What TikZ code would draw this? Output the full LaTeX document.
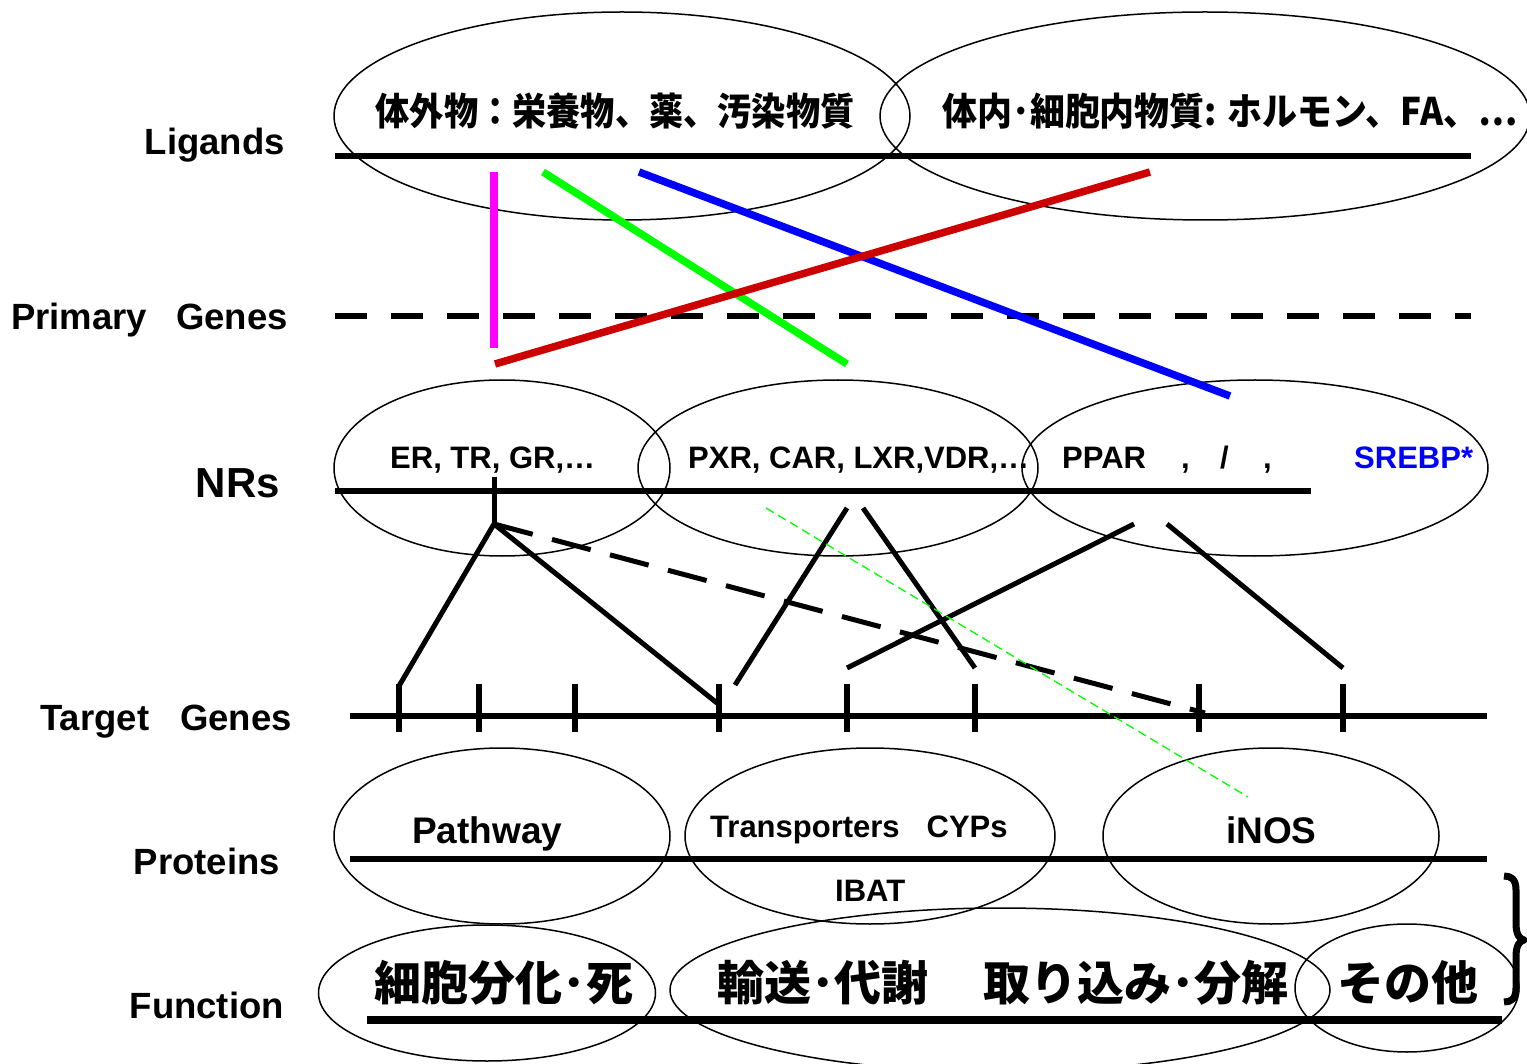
\documentclass[tikz,border=0pt]{standalone}
\usepackage{fontspec}
\setmainfont{Liberation Sans}
\newfontfamily\jp{Noto Sans CJK JP}
\usetikzlibrary{shapes.geometric}
\definecolor{myred}{RGB}{204,0,0}
\definecolor{mygreen}{RGB}{0,255,0}
\definecolor{mymag}{RGB}{255,0,255}
\definecolor{myblue}{RGB}{0,0,255}
\begin{document}
\begin{tikzpicture}[x=1pt,y=-1pt,
  oval/.style={draw, ellipse, line width=1.5pt, inner sep=0pt},
  bar/.style={line width=6.5pt},
  tickmark/.style={line width=6pt},
  link/.style={line width=5pt},
  lig/.style={line width=7.5pt},
  lab/.style={font=\fontsize{36.5}{40}\selectfont\bfseries, anchor=base east, inner sep=0pt},
  nrt/.style={font=\fontsize{31}{34}\selectfont\bfseries, anchor=base west, inner sep=0pt},
  prt/.style={font=\fontsize{37}{40}\selectfont\bfseries, anchor=base west, inner sep=0pt},
  jptop/.style={font=\jp\bfseries\fontsize{38}{42}\selectfont, inner sep=0pt},
  jpfun/.style={font=\jp\bfseries\fontsize{47}{52}\selectfont, inner sep=0pt}
]
\useasboundingbox (0,0) rectangle (1527,1064);

% ---------- ellipses ----------
\node[oval, minimum width=576pt, minimum height=208pt] (L1) at (622,116) {};
\node[oval, minimum width=650pt, minimum height=208pt] (L2) at (1205,116) {};
\node[oval, minimum width=336pt, minimum height=176pt] (N1) at (502,468) {};
\node[oval, minimum width=400pt, minimum height=176pt] (N2) at (838,468) {};
\node[oval, minimum width=466pt, minimum height=176pt] (N3) at (1255,468) {};
\node[oval, minimum width=336pt, minimum height=176pt] (P1) at (502,836) {};
\node[oval, minimum width=370pt, minimum height=176pt] (P2) at (870,836) {};
\node[oval, minimum width=336pt, minimum height=176pt] (P3) at (1271,836) {};
\node[oval, minimum width=337pt, minimum height=136pt] (F1) at (487,993) {};
\node[oval, minimum width=660pt, minimum height=164pt] (F2) at (1000,990) {};
\node[oval, minimum width=224pt, minimum height=128pt] (F3) at (1407,988) {};

% ---------- row labels ----------
\node[lab] (lLig) at (285,155) {Ligands};
\node[lab] (lPri) at (288,330) {Primary\hspace{29pt}Genes};
\node[lab, font=\fontsize{42}{46}\selectfont\bfseries] (lNR) at (280,497) {NRs};
\node[lab] (lTar) at (292,730) {Target\hspace{31pt}Genes};
\node[lab] (lPro) at (280,874) {Proteins};
\node[lab] (lFun) at (284,1018) {Function};

% ---------- ligand texts ----------
\node[jptop] (t1) at (615,111) {\scalebox{0.9}[1]{体外物：栄養物、薬、汚染物質}};
\node[jptop] (t2) at (1230,111) {\scalebox{0.92}[1]{体内･細胞内物質: ホルモン、FA、…}};

% ---------- NR texts ----------
\node[nrt] (nr1) at (390,469) {ER, TR, GR,…};
\node[nrt] (nr2) at (688,469) {PXR, CAR, LXR,VDR,…};
\node[nrt] (nr3) at (1062,469) {PPAR};
\node[nrt] (c1) at (1181,469) {,};
\node[nrt] (c2) at (1220,469) {/};
\node[nrt] (c3) at (1263,469) {,};
\node[nrt, text=myblue] (sre) at (1354,469) {SREBP*};

% ---------- protein texts ----------
\node[prt] (pw) at (412,843) {Pathway};
\node[nrt] (tc) at (710,837) {Transporters\hspace{27pt}CYPs};
\node[nrt] (ib) at (835,901) {IBAT};
\node[prt] (inos) at (1226,843) {iNOS};

% ---------- function texts ----------
\node[jpfun] (f1) at (504,983) {細胞分化･死};
\node[jpfun] (f2) at (823,983) {輸送･代謝};
\node[jpfun] (f3) at (1136,983) {取り込み･分解};
\node[jpfun] (f4) at (1408,983) {その他};

% ---------- horizontal bars ----------
\draw[bar] (335,156) -- (1471,156);
\draw[bar, dash pattern=on 32pt off 24pt] (335,316) -- (1471,316);
\draw[bar] (335,491) -- (1311,491);
\draw[bar] (350,716) -- (1487,716);
\draw[bar] (350,859) -- (1487,859);
\draw[line width=7.5pt] (367,1020) -- (1502,1020);

% ---------- target gene ticks ----------
\foreach \x/\n in {399/1,479/2,575/3,719/4,847/5,975/6,1199/7,1343/8}{
  \coordinate (g\n) at (\x,684);
  \draw[tickmark] (\x,684) -- (\x,732);
}

% ---------- ligand -> NR coloured lines ----------
\coordinate (mA) at (494,172); \coordinate (mB) at (494,348);
\coordinate (gA) at (543,172); \coordinate (gB) at (847,364);
\coordinate (bA) at (639,172); \coordinate (bB) at (1230,396);
\coordinate (rA) at (1150,172); \coordinate (rB) at (495,364);
\draw[lig, mymag] (mA) -- (mB);
\draw[lig, mygreen] (gA) -- (gB);
\draw[lig, myblue] (bA) -- (bB);
\draw[lig, myred] (rA) -- (rB);

% ---------- NR -> target gene links ----------
\coordinate (jt) at (494,477);
\coordinate (j) at (494,524);
\coordinate (e1) at (399,686);
\coordinate (e4) at (717,703);
\coordinate (e7) at (1205,713);
\coordinate (x1) at (847,508); \coordinate (y1) at (735,685);
\coordinate (x2) at (863,508); \coordinate (y2) at (975,668);
\coordinate (x3) at (1134,524); \coordinate (y3) at (847,668);
\coordinate (x4) at (1167,524); \coordinate (y4) at (1343,668);
\coordinate (ga) at (766,508); \coordinate (gb) at (1248,797);
\draw[link] (jt) -- (j);
\draw[link] (j) -- (e1);
\draw[link] (j) -- (e4);
\draw[link, dash pattern=on 40pt off 20pt] (j) -- (e7);
\draw[link] (x1) -- (y1);
\draw[link] (x2) -- (y2);
\draw[link] (x3) -- (y3);
\draw[link] (x4) -- (y4);
\draw[mygreen, line width=1.3pt, dash pattern=on 9pt off 5pt] (ga) -- (gb);

% ---------- brace ----------
\coordinate (brT) at (1504,876);
\coordinate (brB) at (1504,1002);
\coordinate (brTip) at (1524,940);
\draw[line width=7pt, line join=round]
  (brT) .. controls (1511,876) and (1516,879) .. (1516,890)
  -- (1516,923) .. controls (1516,934) and (1519,939) .. (brTip)
  .. controls (1519,941) and (1516,946) .. (1516,957)
  -- (1516,988) .. controls (1516,999) and (1511,1002) .. (brB);
\end{tikzpicture}
\end{document}
